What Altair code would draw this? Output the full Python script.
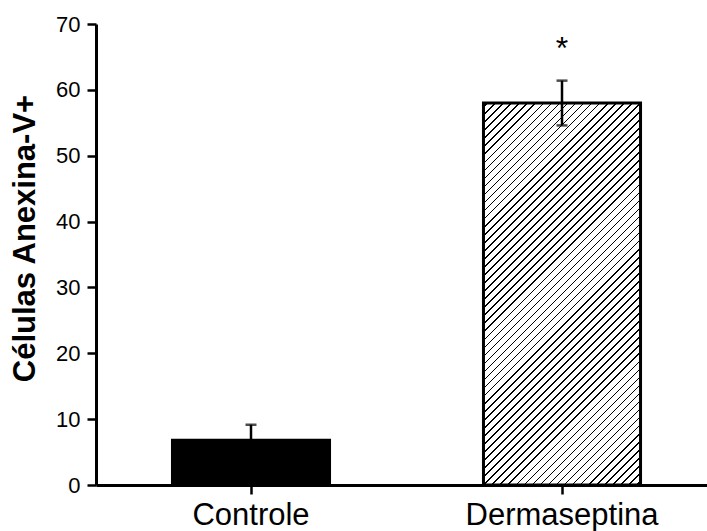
import altair as alt
import pandas as pd

categories = ["Controle", "Dermaseptina"]
means = [6.8, 58.0]
errors = [2.35, 3.4]
marks = ["", "*"]
hatched = [False, True]

Y_MAX = 70
W_PLOT, H_PLOT = 611, 461
PI, PO, ALIGN = 0.495, 0.2298, 0.535

df = pd.DataFrame({"cat": categories, "mean": means, "err": errors,
                   "sig": marks, "hatch": hatched})

# diagonal hatch made with a hard-stop linear gradient (45 deg in pixel space)
step = W_PLOT / (2 - PI + 2 * PO)
bw = step * (1 - PI)
bh = means[1] / Y_MAX * H_PLOT
k = (bw + bh) / (bw ** 2 + bh ** 2)
n = int(round((bw + bh) / 8.0))
f = 0.2
stops = [{"offset": 0, "color": "white"}]
for i in range(n):
    a = (i + 0.4) / n
    b = (i + 0.4 + f) / n
    stops += [{"offset": a, "color": "white"}, {"offset": a, "color": "black"},
              {"offset": b, "color": "black"}, {"offset": b, "color": "white"}]
stops.append({"offset": 1, "color": "white"})
hatch = {"gradient": "linear", "x1": 0, "y1": 0, "x2": k * bw, "y2": k * bh,
         "stops": stops}

FONT = "Liberation Sans"

x = alt.X("cat:N", sort=categories, title=None,
          scale=alt.Scale(paddingInner=PI, paddingOuter=PO, align=ALIGN),
          axis=alt.Axis(labelAngle=0, labelFontSize=31, labelPadding=6,
                        labelLimit=0, labelBaseline="top", tickSize=9,
                        tickWidth=2.5, domainWidth=3))
y = alt.Y("mean:Q", title="Células Anexina-V+",
          scale=alt.Scale(domain=[0, Y_MAX], nice=False),
          axis=alt.Axis(values=list(range(0, 71, 10)), labelFontSize=22,
                        labelPadding=7, tickSize=9, tickWidth=2.5,
                        domainWidth=3, titleFontSize=31, titleFontWeight="bold",
                        titleX=-71, titleY=214, titleAngle=-90,
                        titleAlign="center", titleBaseline="middle"))

base = alt.Chart(df)

bar_solid = base.transform_filter("!datum.hatch").mark_bar(
    fill="black", stroke="black", strokeWidth=3).encode(x=x, y=y)
bar_hatch = base.transform_filter("datum.hatch").mark_bar(
    fill=hatch, stroke="black", strokeWidth=3).encode(x=x, y=y)

eb = base.transform_calculate(lo="datum.mean - datum.err",
                              hi="datum.mean + datum.err")
stem = eb.mark_rule(color="black", strokeWidth=2.5).encode(
    x=alt.X("cat:N", sort=categories), y="lo:Q", y2="hi:Q")
cap_hi = eb.mark_tick(color="black", thickness=2.5, size=11).encode(
    x=alt.X("cat:N", sort=categories), y="hi:Q")
cap_lo = eb.mark_tick(color="black", thickness=2.5, size=11).encode(
    x=alt.X("cat:N", sort=categories), y="lo:Q")
star = eb.mark_text(fontSize=32, font=FONT, color="black", dy=-22,
                    baseline="alphabetic").encode(
    x=alt.X("cat:N", sort=categories), y="hi:Q", text="sig:N")

chart = alt.layer(bar_solid, bar_hatch, stem, cap_hi, cap_lo, star).properties(
    width=W_PLOT, height=H_PLOT, autosize=alt.AutoSizeParams(type="none"),
    padding={"left": 96, "top": 24, "right": 0, "bottom": 46},
    background="white"
).configure_view(stroke=None).configure_axis(
    labelFont=FONT, titleFont=FONT, labelColor="black", titleColor="black",
    domainColor="black", tickColor="black", grid=False
)

chart.save("out.html", embed_options={"renderer": "svg", "actions": False})
